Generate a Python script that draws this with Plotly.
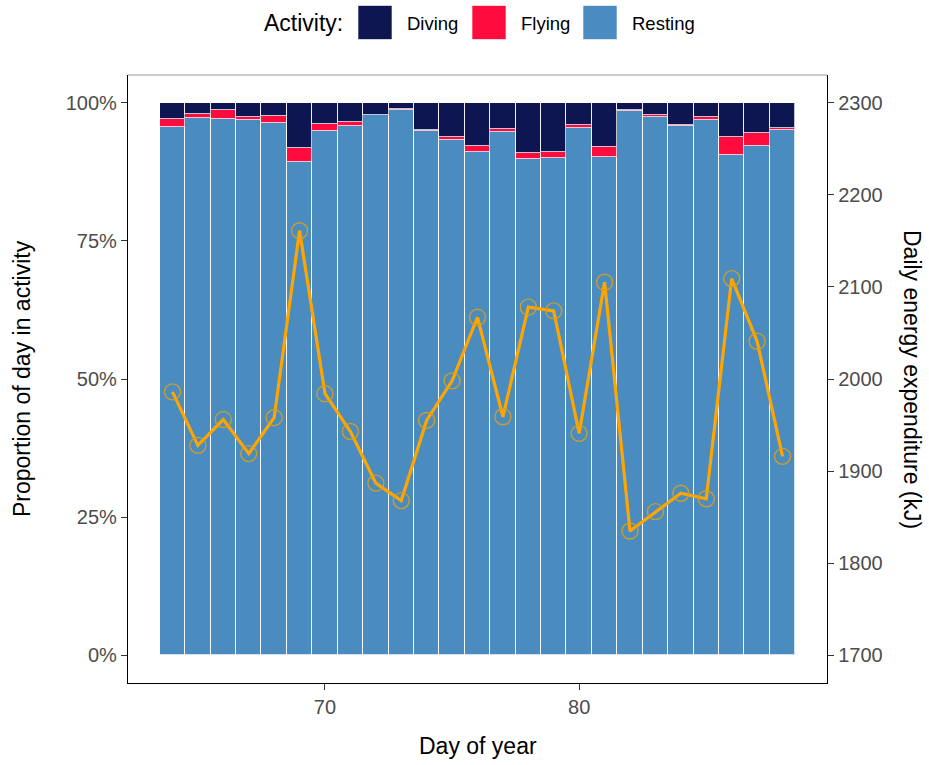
import plotly.graph_objects as go

# ---------------- data ----------------
days = list(range(64, 89))
diving = [3.0, 2.0, 1.4, 2.55, 2.4, 8.2, 3.9, 3.5, 2.15, 1.15, 4.9, 6.15, 7.85,
          4.85, 9.2, 8.95, 4.05, 7.95, 1.4, 2.15, 4.0, 2.65, 6.3, 5.55, 4.65]
flying = [1.45, 0.85, 1.55, 0.6, 1.3, 2.6, 1.25, 0.65, 0.1, 0.1, 0.2, 0.6, 1.0,
          0.5, 1.0, 1.0, 0.5, 1.9, 0.1, 0.4, 0.25, 0.55, 3.1, 2.25, 0.35]
resting = [95.55, 97.15, 97.05, 96.85, 96.3, 89.2, 94.85, 95.85, 97.75, 98.75,
           94.9, 93.25, 91.15, 94.65, 89.8, 90.05, 95.45, 90.15, 98.5, 97.45,
           95.75, 96.8, 90.6, 92.2, 95.0]
energy = [1986, 1928, 1956, 1919, 1958, 2161, 1984, 1943, 1887, 1868, 1955,
          1998, 2067, 1959, 2078, 2074, 1941, 2105, 1835, 1856, 1876, 1870,
          2109, 2041, 1916]

activities = ["Diving", "Flying", "Resting"]
colors = {"Diving": "#0E1651", "Flying": "#FF0C3E", "Resting": "#4A8BC0"}

FONT = "Liberation Sans, Arial, sans-serif"
W, H = 929, 765
L, R, T, B = 128, 102, 75, 82
PW, PH = W - L - R, H - T - B


def px(xp):
    return (xp - L) / PW


def py(yp):
    return (H - B - yp) / PH


fig = go.Figure()
bar_line = dict(color="rgba(255,255,255,0.75)", width=1)
for name, vals in [("Resting", resting), ("Flying", flying), ("Diving", diving)]:
    fig.add_trace(go.Bar(
        x=days, y=[v / 100 for v in vals], name=name, width=1,
        marker=dict(color=colors[name], line=bar_line),
        showlegend=False))

fig.add_trace(go.Scatter(
    x=days, y=energy, yaxis="y2", mode="lines+markers",
    line=dict(color="#FFA500", width=3.2),
    marker=dict(symbol="circle-open", size=16,
                color="rgba(215,160,30,0.9)",
                line=dict(width=1.4, color="rgba(215,160,30,0.9)")),
    showlegend=False))

tickfont = dict(family=FONT, size=20, color="#4D4D4D")

fig.update_layout(
    width=W, height=H,
    margin=dict(l=L, r=R, t=T, b=B),
    paper_bgcolor="white", plot_bgcolor="white",
    barmode="stack", bargap=0,
    font=dict(family=FONT, color="black"),
    xaxis=dict(range=[62.25, 89.75], tickvals=[70, 80], ticks="outside",
               ticklen=6, tickcolor="#333333", tickwidth=1.2,
               showline=True, linecolor="black", linewidth=1.3,
               showgrid=False, zeroline=False, tickfont=tickfont),
    yaxis=dict(range=[-0.05, 1.05], tickvals=[0, 0.25, 0.5, 0.75, 1.0],
               tickformat=".0%", ticks="outside", ticklen=6,
               tickcolor="#333333", tickwidth=1.2,
               showline=True, linecolor="black", linewidth=1.3,
               showgrid=False, zeroline=False, tickfont=tickfont),
    yaxis2=dict(range=[1670, 2330], tickvals=[1700, 1800, 1900, 2000, 2100, 2200, 2300],
                overlaying="y", side="right", ticks="outside", ticklen=6,
                tickcolor="#333333", tickwidth=1.2,
                showline=True, linecolor="black", linewidth=1.3,
                showgrid=False, zeroline=False, tickfont=tickfont),
)

# top panel border
fig.add_shape(type="line", xref="paper", yref="paper", x0=0, x1=1, y0=1, y1=1,
              line=dict(color="#9A9A9A", width=1))

# axis titles
title_font = dict(family=FONT, size=23, color="black")
fig.add_annotation(text="Day of year", xref="paper", yref="paper", x=0.5, y=py(746),
                   showarrow=False, font=title_font, xanchor="center", yanchor="middle")
fig.add_annotation(text="Proportion of day in activity", xref="paper", yref="paper",
                   x=px(22), y=0.5, textangle=-90, showarrow=False, font=title_font,
                   xanchor="center", yanchor="middle")
fig.add_annotation(text="Daily energy expenditure (kJ)", xref="paper", yref="paper",
                   x=px(912), y=0.5, textangle=90, showarrow=False, font=title_font,
                   xanchor="center", yanchor="middle")

# legend (drawn manually to match large keys)
fig.add_annotation(text="Activity:", xref="paper", yref="paper", x=px(262), y=py(23),
                   xanchor="left", yanchor="middle", showarrow=False,
                   font=dict(family=FONT, size=23, color="black"))
key_x = {"Diving": 358, "Flying": 472, "Resting": 583}
for name in activities:
    x0 = key_x[name]
    fig.add_shape(type="rect", xref="paper", yref="paper",
                  x0=px(x0), x1=px(x0 + 34), y0=py(39.5), y1=py(5.5),
                  fillcolor=colors[name], line=dict(color="rgba(255,255,255,0.6)", width=1))
    fig.add_annotation(text=name, xref="paper", yref="paper", x=px(x0 + 47), y=py(23),
                       xanchor="left", yanchor="middle", showarrow=False,
                       font=dict(family=FONT, size=18.5, color="black"))

fig.write_html("out.html")
